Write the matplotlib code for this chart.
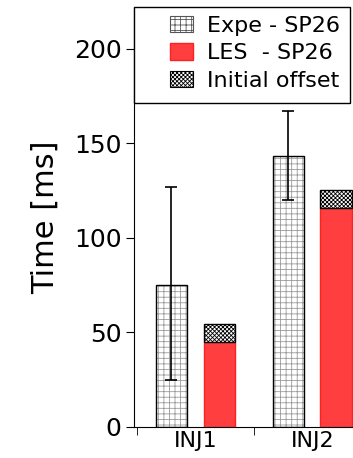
import matplotlib
matplotlib.use("Agg")
import matplotlib.pyplot as plt
import numpy as np
from matplotlib.patches import Patch, Rectangle

plt.rcParams['font.family'] = ['DejaVu Sans']
plt.rcParams['hatch.linewidth'] = 0.6

categories = ["INJ1", "INJ2"]
expe = [75, 143]
expe_err_low = [25, 120]
expe_err_high = [127, 167]
les = [45, 116]
offset = [9.5, 9.5]
yticks = [0, 50, 100, 150, 200]

W, H = 353, 458
fig = plt.figure(figsize=(W/100, H/100), dpi=100)
ax = fig.add_axes([134/W, 1 - 427/H, 1 - 134/W + 0.05, (427 - 7)/H])

x = np.arange(len(categories))
w = 0.27
d = 0.205

# Expe bars
ax.bar(x - d, expe, w, color='white', edgecolor='#9a9a9a', hatch='+++', linewidth=0)
ax.bar(x - d, expe, w, color='none', edgecolor='black', linewidth=1.0)
err = [np.array(expe) - np.array(expe_err_low), np.array(expe_err_high) - np.array(expe)]
ax.errorbar(x - d, expe, yerr=err, fmt='none', ecolor='black', elinewidth=1.2, capsize=4, capthick=1.2)

# LES bars
ax.bar(x + d, les, w, color='#ff3f3f', edgecolor='#ff2020', linewidth=1.0)
off = ax.bar(x + d, offset, w, bottom=les, color='white', edgecolor='black', hatch='xxxxxxxx', linewidth=1.0)

ax.set_ylim(0, 222)
ax.set_xlim(-0.526, 1.5)
ax.set_yticks(yticks)
ax.set_yticklabels([str(t) for t in yticks], fontsize=18)
ax.set_xticks(x)
ax.set_xticklabels(categories, fontsize=16)
ax.tick_params(axis='x', which='major', length=0, pad=3)
ax.set_xticks([-0.5, 0.5, 1.5], minor=True)
ax.tick_params(axis='x', which='minor', length=6, direction='out')
ax.tick_params(axis='y', length=6, direction='out', pad=3)
ax.set_ylabel("Time [ms]", fontsize=22, labelpad=10)

for s in ['top', 'right']:
    ax.spines[s].set_visible(False)

# legend box frame
fig.patches.append(Rectangle((134/W, 1 - 103/H), (350 - 134)/W, (103 - 7)/H, transform=fig.transFigure,
                             facecolor='white', edgecolor='black', linewidth=1.0, zorder=5))

handles = [
    Patch(facecolor='white', edgecolor='#555555', hatch='+++', linewidth=0.8, label='Expe - SP26'),
    Patch(facecolor='#ff3f3f', edgecolor='#ff2020', label='LES  - SP26'),
    Patch(facecolor='white', edgecolor='black', hatch='xxxxxxxx', linewidth=0.8, label='Initial offset'),
]
leg = fig.legend(handles=handles, loc='upper left', bbox_to_anchor=(170/W, 1 - 16/H),
                 bbox_transform=fig.transFigure, fontsize=16,
                 frameon=False, handlelength=1.05, handleheight=0.75, borderpad=0,
                 labelspacing=0.33, borderaxespad=0, handletextpad=0.6)
leg.set_zorder(6)

fig.savefig("out.png", dpi=100)
